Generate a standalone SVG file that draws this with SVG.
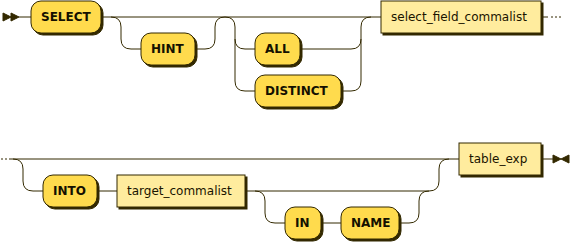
<svg xmlns="http://www.w3.org/2000/svg" width="570" height="242" viewBox="0 0 570 242">
  <style>
    .line { fill: none; stroke: #332900; stroke-width: 1; }
    .dots { fill: none; stroke: #332900; stroke-width: 1; }
    .shadow { fill: #332900; stroke: #332900; stroke-width: 1; }
    .marker { fill: #332900; stroke: #332900; stroke-width: 1; }
    rect.terminal { fill: #FFDB4D; stroke: #332900; stroke-width: 1; }
    rect.nonterminal { fill: #FFEC9E; stroke: #332900; stroke-width: 1; }
    text.terminal { font-family: "DejaVu Sans", Verdana, sans-serif; font-size: 12px; font-weight: bold; fill: #141000; }
    text.nonterminal { font-family: "DejaVu Sans", Verdana, sans-serif; font-size: 12px; font-weight: normal; fill: #1A1400; }
  </style>

  <!-- connectors -->
  <g id="connectors">
    <!-- start marker -->
    <polygon class="marker" points="11 17 3 13 3 21"/>
    <polygon class="marker" points="19 17 11 13 11 21"/>
    <!-- row 1 -->
    <path class="line" d="M19 17 H31 M101 17 H381"/>
    <path class="line" d="M111 17 q10 0 10 10 v12 q0 10 10 10 h10 M195 49 h10 q10 0 10 -10 v-12 q0 -10 10 -10"/>
    <path class="line" d="M225 17 q10 0 10 10 v12 q0 10 10 10 h10 M235 39 v42 q0 10 10 10 h10"/>
    <path class="line" d="M300 49 H351 q10 0 10 -10 v-12 q0 -10 10 -10 M341 91 h10 q10 0 10 -10 v-42"/>
    <path class="line" d="M541 17 h7"/>
    <path class="dots" d="M551 17 h2 m2 0 h2 m2 0 h2"/>
    <!-- row 2 -->
    <path class="dots" d="M1 159 h2 m2 0 h2 m2 0 h2"/>
    <path class="line" d="M11 159 H459"/>
    <path class="line" d="M13 159 q10 0 10 10 v12 q0 10 10 10 h10 M97 191 h20 M245 191 H429"/>
    <path class="line" d="M255 191 q10 0 10 10 v12 q0 10 10 10 h10 M321 223 h20 M399 223 h10 q10 0 10 -10 v-12 q0 -10 10 -10"/>
    <path class="line" d="M429 191 q10 0 10 -10 v-12 q0 -10 10 -10"/>
    <path class="line" d="M541 159 h12"/>
    <!-- end marker -->
    <polygon class="marker" points="561 159 553 155 553 163"/>
    <polygon class="marker" points="561 159 569 155 569 163"/>
  </g>

  <!-- nodes -->
  <g id="SELECT">
    <rect class="shadow" x="33" y="3" width="70" height="32" rx="10"/>
    <rect class="terminal" x="31" y="1" width="70" height="32" rx="10"/>
    <text class="terminal" x="41" y="21">SELECT</text>
  </g>
  <g id="HINT">
    <rect class="shadow" x="143" y="35" width="54" height="32" rx="10"/>
    <rect class="terminal" x="141" y="33" width="54" height="32" rx="10"/>
    <text class="terminal" x="151" y="53">HINT</text>
  </g>
  <g id="ALL">
    <rect class="shadow" x="257" y="35" width="45" height="32" rx="10"/>
    <rect class="terminal" x="255" y="33" width="45" height="32" rx="10"/>
    <text class="terminal" x="265" y="53">ALL</text>
  </g>
  <g id="DISTINCT">
    <rect class="shadow" x="257" y="77" width="86" height="32" rx="10"/>
    <rect class="terminal" x="255" y="75" width="86" height="32" rx="10"/>
    <text class="terminal" x="265" y="95">DISTINCT</text>
  </g>
  <g id="select_field_commalist">
    <rect class="shadow" x="383" y="3" width="160" height="32"/>
    <rect class="nonterminal" x="381" y="1" width="160" height="32"/>
    <text class="nonterminal" x="391" y="21">select_field_commalist</text>
  </g>
  <g id="INTO">
    <rect class="shadow" x="45" y="177" width="54" height="32" rx="10"/>
    <rect class="terminal" x="43" y="175" width="54" height="32" rx="10"/>
    <text class="terminal" x="53" y="195">INTO</text>
  </g>
  <g id="target_commalist">
    <rect class="shadow" x="119" y="177" width="128" height="32"/>
    <rect class="nonterminal" x="117" y="175" width="128" height="32"/>
    <text class="nonterminal" x="127" y="195">target_commalist</text>
  </g>
  <g id="IN">
    <rect class="shadow" x="287" y="209" width="36" height="32" rx="10"/>
    <rect class="terminal" x="285" y="207" width="36" height="32" rx="10"/>
    <text class="terminal" x="295" y="227">IN</text>
  </g>
  <g id="NAME">
    <rect class="shadow" x="343" y="209" width="58" height="32" rx="10"/>
    <rect class="terminal" x="341" y="207" width="58" height="32" rx="10"/>
    <text class="terminal" x="351" y="227">NAME</text>
  </g>
  <g id="table_exp">
    <rect class="shadow" x="461" y="145" width="82" height="32"/>
    <rect class="nonterminal" x="459" y="143" width="82" height="32"/>
    <text class="nonterminal" x="469" y="163">table_exp</text>
  </g>
</svg>
